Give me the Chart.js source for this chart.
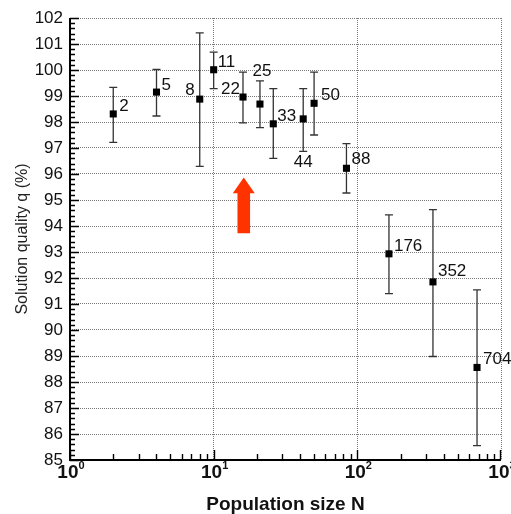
<!DOCTYPE html>
<html>
<head>
<meta charset="utf-8">
<script src="https://cdn.jsdelivr.net/npm/chart.js@4.4.1/dist/chart.umd.min.js"></script>
<style>
  html, body { margin: 0; padding: 0; background: #fff; }
</style>
</head>
<body>
<canvas id="chart" width="511" height="514"></canvas>
<script>
// population size (x), mean solution quality and the ends of each error bar
const popSizes  = [2, 4, 8, 10, 16, 21, 26, 42, 50, 84, 166, 336, 681];
const quality   = [98.31, 99.15, 98.88, 100.01, 98.96, 98.69, 97.93, 98.12, 98.72, 96.22, 92.93, 91.85, 88.56];
const qualityHi = [99.33, 100.02, 101.43, 100.69, 99.92, 99.58, 99.28, 99.28, 99.92, 97.17, 94.43, 94.63, 91.54];
const qualityLo = [97.22, 98.23, 96.29, 99.28, 97.97, 97.78, 96.60, 96.87, 97.50, 95.27, 91.40, 88.98, 85.55];
const tags      = ['2', '5', '8', '11', '22', '25', '33', '44', '50', '88', '176', '352', '704'];
const decades   = [1, 10, 100, 1000];

// red marker arrow (x in N, tip / neck / tail in %)
const arrowAt = 16.2;
const arrowTip = 95.87, arrowNeck = 95.26, arrowTail = 93.72;

const FONT = "'Liberation Sans', Arial, sans-serif";

// where each tag sits relative to its point: [dx, dy, align]
const tagPlace = [
  [6, -8, 'left'], [5, -7, 'left'], [-5, -9, 'right'], [4, -7, 'left'],
  [-3, -8, 'right'], [2, -33, 'center'], [4, -8, 'left'], [0, 43, 'center'],
  [7, -8, 'left'], [5, -9, 'left'], [5, -8, 'left'], [5, -11, 'left'], [6, -8, 'left']
];

const decorations = {
  id: 'decorations',
  beforeDatasetsDraw(chart) {
    const { ctx, scales: { x, y } } = chart;
    ctx.save();

    // error bars with short caps
    ctx.strokeStyle = '#333';
    ctx.lineWidth = 1.3;
    popSizes.forEach((n, i) => {
      const px = x.getPixelForValue(n);
      const top = y.getPixelForValue(qualityHi[i]);
      const bot = y.getPixelForValue(qualityLo[i]);
      ctx.beginPath();
      ctx.moveTo(px, top); ctx.lineTo(px, bot);
      ctx.moveTo(px - 4, top); ctx.lineTo(px + 4, top);
      ctx.moveTo(px - 4, bot); ctx.lineTo(px + 4, bot);
      ctx.stroke();
    });

    // arrow
    const ax = x.getPixelForValue(arrowAt);
    const tipY = y.getPixelForValue(arrowTip);
    const neckY = y.getPixelForValue(arrowNeck);
    const tailY = y.getPixelForValue(arrowTail);
    ctx.fillStyle = '#ff3300';
    ctx.beginPath();
    ctx.moveTo(ax, tipY);
    ctx.lineTo(ax + 11, neckY);
    ctx.lineTo(ax + 6.3, neckY);
    ctx.lineTo(ax + 6.3, tailY);
    ctx.lineTo(ax - 6.3, tailY);
    ctx.lineTo(ax - 6.3, neckY);
    ctx.lineTo(ax - 11, neckY);
    ctx.closePath();
    ctx.fill();
    ctx.restore();
  },
  afterDraw(chart) {
    const { ctx, chartArea: a, scales: { x, y } } = chart;
    ctx.save();

    // inward ticks on the left axis: major every 1, minor every 0.2
    ctx.strokeStyle = '#000';
    ctx.lineWidth = 1.4;
    ctx.beginPath();
    for (let k = 0; k <= 85; k++) {
      const py = Math.round(y.getPixelForValue(85 + k * 0.2)) + 0.5;
      ctx.moveTo(a.left, py);
      ctx.lineTo(a.left + (k % 5 === 0 ? 9 : 5), py);
    }
    // inward ticks on the bottom axis
    decades.slice(0, 3).forEach((d) => {
      for (let m = 1; m <= 9; m++) {
        const px = Math.round(x.getPixelForValue(d * m)) + 0.5;
        ctx.moveTo(px, a.bottom);
        ctx.lineTo(px, a.bottom - (m === 1 ? 10 : 6));
      }
    });
    const pxEnd = Math.round(x.getPixelForValue(1000)) - 0.5;
    ctx.moveTo(pxEnd, a.bottom);
    ctx.lineTo(pxEnd, a.bottom - 10);
    ctx.stroke();

    // solid axis lines
    ctx.lineWidth = 2;
    ctx.beginPath();
    ctx.moveTo(a.left, a.top);
    ctx.lineTo(a.left, a.bottom);
    ctx.lineTo(a.right, a.bottom);
    ctx.stroke();

    // decade labels 10^k
    ctx.fillStyle = '#111';
    ctx.textBaseline = 'middle';
    decades.forEach((d, k) => {
      const px = x.getPixelForValue(d);
      ctx.font = 'bold 19px ' + FONT;
      const w1 = ctx.measureText('10').width;
      ctx.font = 'bold 11px ' + FONT;
      const w2 = ctx.measureText(String(k)).width;
      const left = px - (w1 + w2) / 2 + 1;
      ctx.textAlign = 'left';
      ctx.font = 'bold 19px ' + FONT;
      ctx.fillText('10', left, a.bottom + 13);
      ctx.font = 'bold 11px ' + FONT;
      ctx.fillText(String(k), left + w1, a.bottom + 6);
    });

    // point tags
    ctx.font = '17px ' + FONT;
    popSizes.forEach((n, i) => {
      const [dx, dy, align] = tagPlace[i];
      ctx.textAlign = align;
      ctx.fillText(tags[i], x.getPixelForValue(n) + dx, y.getPixelForValue(quality[i]) + dy);
    });
    ctx.restore();
  }
};

new Chart(document.getElementById('chart'), {
  type: 'scatter',
  data: {
    datasets: [{
      data: popSizes.map((n, i) => ({ x: n, y: quality[i] })),
      pointStyle: 'rect',
      pointRadius: 5,
      backgroundColor: '#000',
      borderColor: '#000',
      borderWidth: 0
    }]
  },
  options: {
    responsive: false,
    animation: false,
    devicePixelRatio: 1,
    layout: { padding: { top: 18, right: 10, left: 0, bottom: 0 } },
    plugins: { legend: { display: false }, tooltip: { enabled: false } },
    scales: {
      x: {
        type: 'logarithmic',
        min: 1,
        max: 1000,
        afterBuildTicks: (s) => { s.ticks = decades.map((v) => ({ value: v })); },
        afterFit: (s) => { s.height = 54; },
        ticks: { display: false },
        grid: { color: '#7a7a7a', lineWidth: 1, drawTicks: false },
        border: { display: false, dash: [1, 1] },
        title: {
          display: true,
          text: 'Population size N',
          color: '#111',
          font: { family: FONT, size: 19, weight: 'bold', lineHeight: 1 },
          padding: { top: 0, bottom: 0 }
        }
      },
      y: {
        min: 85,
        max: 102,
        afterFit: (s) => { s.width = 70; },
        ticks: { stepSize: 1, padding: 7, color: '#111', font: { family: FONT, size: 17 } },
        grid: { color: '#7a7a7a', lineWidth: 1, drawTicks: false },
        border: { display: false, dash: [1, 1] },
        title: {
          display: true,
          text: 'Solution quality q (%)',
          color: '#222',
          font: { family: FONT, size: 16 },
          padding: { top: 13, bottom: 0 }
        }
      }
    }
  },
  plugins: [decorations]
});
</script>
</body>
</html>
